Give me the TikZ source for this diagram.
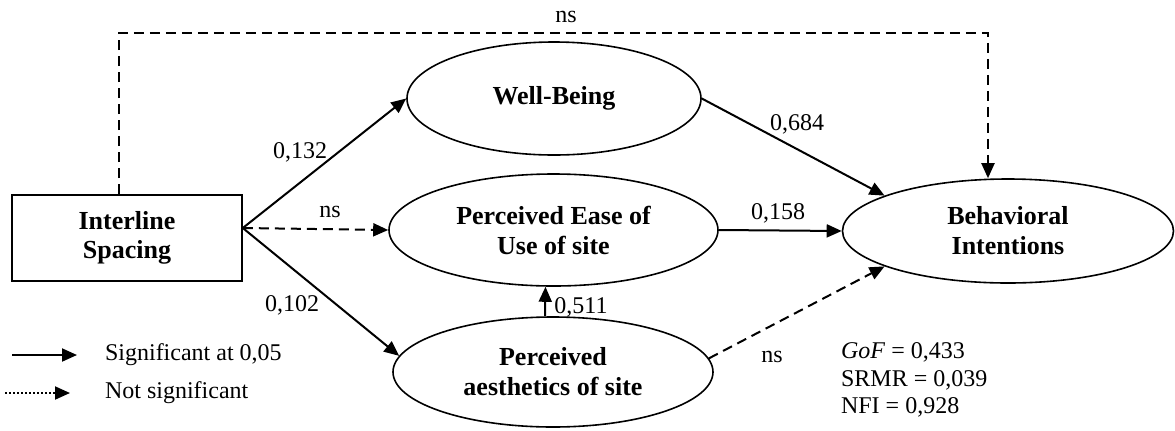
\documentclass[tikz,border=0pt]{standalone}
\usepackage{fontspec}
\setmainfont{Liberation Serif}
\usetikzlibrary{arrows.meta, shapes.geometric}

\begin{document}
\begin{tikzpicture}[x=0.5pt, y=-0.5pt, font=\fontsize{12}{14.5}\selectfont,
        latent/.style={ellipse, draw, line width=0.8pt, align=center, inner sep=0pt,
            font=\fontsize{13}{15}\selectfont\bfseries},
        sig/.style={-{Triangle[length=7.5pt,width=6.5pt]}, line width=1pt},
        nsig/.style={sig, dash pattern=on 5pt off 3pt}]
        \useasboundingbox (0,0) rectangle (1175,430);

        % constructs
        \node[draw, line width=0.8pt, minimum width=115pt, minimum height=43pt, align=center,
            font=\fontsize{13}{14.5}\selectfont\bfseries] (spacing) at (127,238) {Interline\\Spacing};
        \node[latent, minimum width=147pt, minimum height=56.5pt] (wb) at (554,98.5) {Well-Being};
        \node[latent, minimum width=164.5pt, minimum height=56pt] (peu) at (553.5,230) {Perceived Ease of\\Use of site};
        \node[latent, minimum width=160pt, minimum height=55pt] (pa) at (553,372) {Perceived\\aesthetics of site};
        \node[latent, minimum width=165.5pt, minimum height=52pt] (bi) at (1008,231) {Behavioral\\Intentions};

        % paths
        \coordinate (top) at (500,33);
        \draw[sig] ([yshift=5pt]spacing.east) -- (wb.west);
        \draw[nsig] ([yshift=5pt]spacing.east) -- (peu.west);
        \draw[sig] ([yshift=5pt]spacing.east) -- (pa.174);
        \draw[sig] ([xshift=-4pt]pa.north) -- ([xshift=-4pt]peu.south);
        \draw[sig] (wb.east) -- (bi.164);
        \draw[sig] (peu.east) -- (bi.west);
        \draw[nsig] (pa.5) -- (bi.196);
        \draw[nsig] ([xshift=-4pt]spacing.north) -- ([xshift=-4pt]spacing.north |- top)
            -| ([xshift=-10pt]bi.north);

        % coefficients
        \node (c1) at (300,152) {0,132};
        \node (c2) at (330,212) {ns};
        \node (c3) at (292,305) {0,102};
        \node (c4) at (581,307) {0,511};
        \node (c5) at (797,124) {0,684};
        \node (c6) at (778,213) {0,158};
        \node (c7) at (772,357) {ns};
        \node (c8) at (566,17) {ns};

        % fit indices
        \node[anchor=west] (gof) at (834,352) {\textit{GoF} = 0,433};
        \node[anchor=west] (srmr) at (834,380) {SRMR = 0,039};
        \node[anchor=west] (nfi) at (834,407) {NFI = 0,928};

        % legend
        \coordinate (la) at (12,355);
        \coordinate (lb) at (77,355);
        \coordinate (lc) at (5,393);
        \coordinate (ld) at (70,393);
        \draw[sig] (la) -- (lb);
        \draw[sig, dash pattern=on 1pt off 1pt] (lc) -- (ld);
        \node[anchor=west] (sigtext) at (98,355) {Significant at 0,05};
        \node[anchor=west] (nstext) at (98,393) {Not significant};
\end{tikzpicture}
\end{document}
